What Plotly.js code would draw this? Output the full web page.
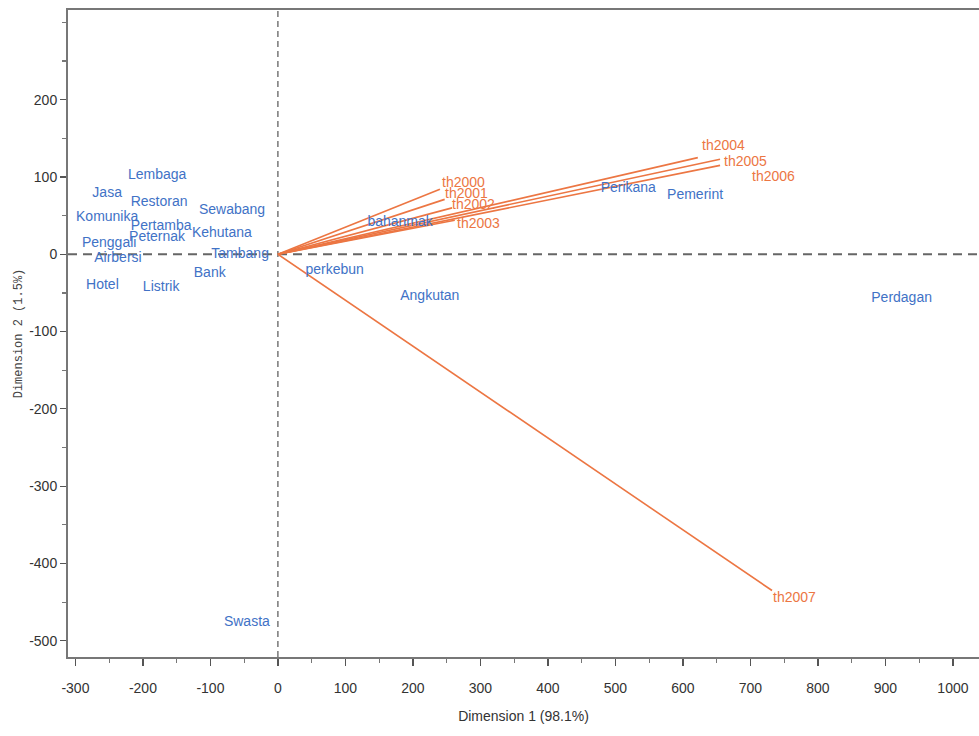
<!DOCTYPE html>
<html>
<head>
<meta charset="utf-8">
<script src="https://cdn.plot.ly/plotly-3.0.1.min.js"></script>
<style>html,body{margin:0;padding:0;background:#fff;}#chart{width:979px;height:736px;}</style>
</head>
<body>
<div id="chart"></div>
<script>
// Row (sector) coordinates
const sectorNames = ["Lembaga","Jasa","Restoran","Komunika","Sewabang","Pertamba","Kehutana","Peternak","Penggali","Airbersi","Tambang","Bank","Hotel","Listrik","perkebun","bahanmak","Angkutan","Perikana","Pemerint","Perdagan","Swasta"];
const sectorDim1 = [-179,-253,-176,-253,-68,-173,-83,-179,-250,-237,-56,-101,-260,-173,84,181,225,519,618,924,-46];
const sectorDim2 = [102,79,67,48,56,36,27,22,14,-5,0,-25,-41,-43,-21,41,-54,85,76,-57,-477];

// Column (year) vectors
const yearNames = ["th2000","th2001","th2002","th2003","th2004","th2005","th2006","th2007"];
const yearDim1 = [240,247,258,262,622,655,655,732];
const yearDim2 = [84,71,60,44,125,123,115,-435];

// label offsets (px) for year labels
const yearLabelXShift = [0,-2,-2,0,2,2,30,-1];
const yearLabelYShift = [7,6,4,-3,13,-2,-11,-6];

const xTickVals = [-300,-200,-100,0,100,200,300,400,500,600,700,800,900,1000];
const xTickText = ["-300","-200","-100","0","100","200","300","400","500","600","700","800","900","1000"];
const yTickVals = [-500,-400,-300,-200,-100,0,100,200];
const yTickText = ["-500","-400","-300","-200","-100","0","100","200"];

const orange = "#ec7643";
const blue = "#4172c6";

const vx = [], vy = [];
yearDim1.forEach((x,i)=>{ vx.push(0,x,null); vy.push(0,yearDim2[i],null); });

const traces = [
  {
    type:"scatter", mode:"lines", x:vx, y:vy,
    line:{color:orange, width:1.6}, hoverinfo:"skip", showlegend:false
  },
  {
    type:"scatter", mode:"text", x:sectorDim1, y:sectorDim2, text:sectorNames,
    textposition:"middle center",
    textfont:{family:"Liberation Sans, Arial, sans-serif", size:14, color:blue},
    showlegend:false
  }
];

const annotations = yearNames.map((n,i)=>({
  x:yearDim1[i], y:yearDim2[i], xref:"x", yref:"y", text:n, showarrow:false,
  xanchor:"left", yanchor:"middle", xshift:yearLabelXShift[i], yshift:yearLabelYShift[i],
  font:{family:"Liberation Sans, Arial, sans-serif", size:14, color:orange}
}));

const layout = {
  width:979, height:736,
  margin:{l:68, r:0, t:10, b:79},
  paper_bgcolor:"#ffffff", plot_bgcolor:"#ffffff",
  showlegend:false,
  xaxis:{
    range:[-311,1038.6], tickmode:"array", tickvals:xTickVals, ticktext:xTickText,
    ticks:"outside", ticklen:7, tickcolor:"#555", tickwidth:1.2,
    minor:{dtick:50, tick0:0, ticks:"outside", ticklen:4, tickcolor:"#777"},
    showgrid:false, zeroline:false, showline:true, mirror:true, linecolor:"#777", linewidth:2,
    tickfont:{family:"Liberation Sans, Arial, sans-serif", size:14, color:"#333"},
    ticklabelstandoff:10,
    title:{text:"Dimension 1 (98.1%)", font:{family:"Liberation Sans, Arial, sans-serif", size:14, color:"#333"}, standoff:16}
  },
  yaxis:{
    range:[-521,316], tickmode:"array", tickvals:yTickVals, ticktext:yTickText,
    ticks:"outside", ticklen:6, tickcolor:"#555", tickwidth:1.2,
    minor:{dtick:50, tick0:0, ticks:"outside", ticklen:4, tickcolor:"#777"},
    showgrid:false, zeroline:false, showline:true, mirror:true, linecolor:"#777", linewidth:2,
    tickfont:{family:"Liberation Sans, Arial, sans-serif", size:14, color:"#333"},
    title:{text:"Dimension 2 (1.5%)", font:{family:"Liberation Mono, DejaVu Sans Mono, monospace", size:12, color:"#444"}, standoff:4}
  },
  shapes:[
    {type:"line", xref:"x", yref:"paper", x0:0, x1:0, y0:0, y1:1, line:{color:"#333", width:1, dash:"6px,4px"}, layer:"below"},
    {type:"line", xref:"paper", yref:"y", x0:0, x1:1, y0:0, y1:0, line:{color:"#666", width:2, dash:"9px,6px"}, layer:"below"}
  ],
  annotations:annotations
};

Plotly.newPlot("chart", traces, layout, {displayModeBar:false, staticPlot:true});
</script>
</body>
</html>
